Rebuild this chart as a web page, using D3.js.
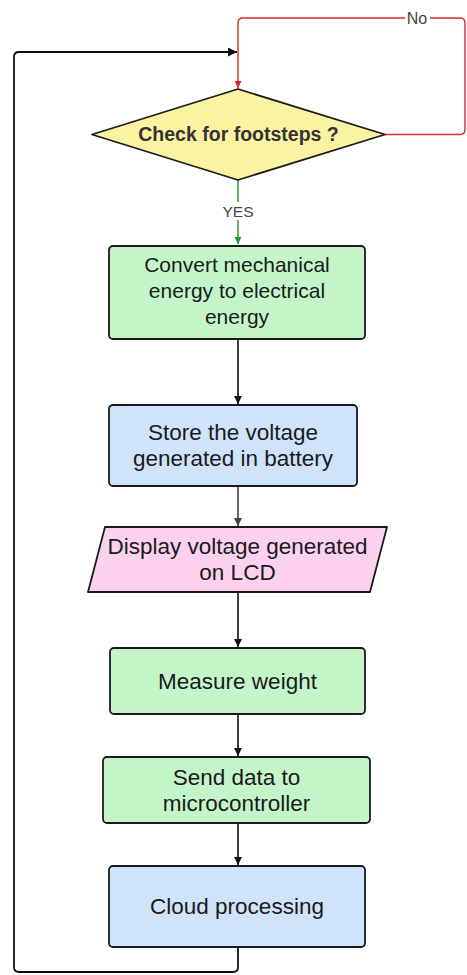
<!DOCTYPE html>
<html>
<head>
<meta charset="utf-8">
<script src="https://cdn.jsdelivr.net/npm/d3@7"></script>
<style>
  html, body { margin: 0; padding: 0; background: #fff; }
  svg { display: block; }
  text { font-family: "Liberation Sans", Arial, sans-serif; }
</style>
</head>
<body>
<div id="chart"></div>
<script>
// flow steps, top to bottom
const stepLabels = [
  ["Check for footsteps ?"],
  ["Convert mechanical", "energy to electrical", "energy"],
  ["Store the voltage", "generated in battery"],
  ["Display voltage generated", "on LCD"],
  ["Measure weight"],
  ["Send data to", "microcontroller"],
  ["Cloud processing"]
];
const stepKinds = ["decision", "process", "store", "io", "process", "process", "store"];
const branchLabels = ["YES", "No"];

// layout (pixels)
const W = 467, H = 975;
const boxes = [
  {x0: 92, x1: 385, y0: 89, y1: 180},
  {x0: 109, x1: 365, y0: 246, y1: 339},
  {x0: 109, x1: 357, y0: 405, y1: 486},
  {x0: 88, x1: 387, y0: 527, y1: 592},
  {x0: 110, x1: 365, y0: 648, y1: 714},
  {x0: 103, x1: 370, y0: 757, y1: 823},
  {x0: 109, x1: 365, y0: 866, y1: 947}
];
const fills = {decision: "#fbf2a2", process: "#c4f5c9", store: "#cfe3fb", io: "#fbd1ef"};
const cx = 238;

const svg = d3.select("#chart").append("svg")
  .attr("width", W).attr("height", H);

const defs = svg.append("defs");
function marker(id, color) {
  defs.append("marker")
    .attr("id", id)
    .attr("viewBox", "0 0 10 10")
    .attr("refX", 10).attr("refY", 5)
    .attr("markerWidth", 5).attr("markerHeight", 5)
    .attr("markerUnits", "strokeWidth")
    .attr("orient", "auto")
    .append("path").attr("d", "M0,0 L10,5 L0,10 z").attr("fill", color);
}
marker("ab", "#111");
marker("ag", "#444");
marker("ar", "#d42a2a");
marker("agr", "#1e9b2a");

const line = d3.line();

// connectors between consecutive steps
const links = svg.append("g");
for (let i = 1; i < boxes.length - 1; i++) {
  links.append("path")
    .attr("d", line([[cx, boxes[i].y1], [cx, boxes[i + 1].y0 - 1]]))
    .attr("stroke", i === 2 ? "#444" : "#111")
    .attr("stroke-width", 1.6)
    .attr("fill", "none")
    .attr("marker-end", i === 2 ? "url(#ag)" : "url(#ab)");
}

// YES branch
links.append("path")
  .attr("d", line([[cx, boxes[0].y1], [cx, boxes[1].y0 - 2]]))
  .attr("stroke", "#1e9b2a").attr("stroke-width", 1.4).attr("fill", "none")
  .attr("marker-end", "url(#agr)");
links.append("rect")
  .attr("x", cx - 19).attr("y", 202).attr("width", 38).attr("height", 18).attr("fill", "#fff");
links.append("text")
  .attr("x", cx).attr("y", 217).attr("text-anchor", "middle")
  .attr("font-size", 15.5).attr("fill", "#444").text(branchLabels[0]);

// No branch (loop back over the top right)
const rX = 465, rTop = 18, rr = 5;
const dMid = (boxes[0].y0 + boxes[0].y1) / 2;
links.append("path")
  .attr("d", `M${boxes[0].x1},${dMid} H${rX - rr} Q${rX},${dMid} ${rX},${dMid - rr} V${rTop + rr} Q${rX},${rTop} ${rX - rr},${rTop} H${cx + rr} Q${cx},${rTop} ${cx},${rTop + rr} V${boxes[0].y0 - 1}`)
  .attr("stroke", "#d42a2a").attr("stroke-width", 1.4).attr("fill", "none")
  .attr("marker-end", "url(#ar)");
links.append("rect")
  .attr("x", 405).attr("y", 9).attr("width", 25).attr("height", 18).attr("fill", "#fff");
links.append("text")
  .attr("x", 417).attr("y", 24).attr("text-anchor", "middle")
  .attr("font-size", 16).attr("fill", "#444").text(branchLabels[1]);

// return loop from the last step
const last = boxes[boxes.length - 1];
const lX = 14, lBot = 972, lTop = 52;
links.append("path")
  .attr("d", `M${cx},${last.y1} V${lBot - rr} Q${cx},${lBot} ${cx - rr},${lBot} H${lX + rr} Q${lX},${lBot} ${lX},${lBot - rr} V${lTop + rr} Q${lX},${lTop} ${lX + rr},${lTop} H${cx - 1}`)
  .attr("stroke", "#111").attr("stroke-width", 1.8).attr("fill", "none")
  .attr("marker-end", "url(#ab)");

// shapes
const nodes = svg.append("g").selectAll("g")
  .data(stepLabels.map((lab, i) => ({lab, kind: stepKinds[i], b: boxes[i]})))
  .join("g");

nodes.each(function(d, i) {
  const g = d3.select(this), b = d.b;
  const common = s => s.attr("fill", fills[d.kind]).attr("stroke", "#1a1a1a").attr("stroke-width", 1.8);
  if (d.kind === "decision") {
    const my = (b.y0 + b.y1) / 2;
    common(g.append("path").attr("d", line([[cx, b.y0], [b.x1, my], [cx, b.y1], [b.x0, my]]) + "Z")
      .attr("stroke-linejoin", "round"));
  } else if (d.kind === "io") {
    const sk = 17;
    common(g.append("path").attr("d", line([[b.x0 + sk, b.y0], [b.x1, b.y0], [b.x1 - sk, b.y1], [b.x0, b.y1]]) + "Z")
      .attr("stroke-linejoin", "round"));
  } else {
    common(g.append("rect").attr("x", b.x0).attr("y", b.y0)
      .attr("width", b.x1 - b.x0).attr("height", b.y1 - b.y0).attr("rx", 4));
  }
  const bold = d.kind === "decision";
  const fs = bold ? 19.5 : (i === 1 ? 21 : 22.5);
  const lh = bold ? 22 : 26;
  const n = d.lab.length;
  const my = (b.y0 + b.y1) / 2 - (i === 1 ? 2 : 0);
  g.selectAll("text").data(d.lab).join("text")
    .attr("x", (b.x0 + b.x1) / 2)
    .attr("y", (t, j) => my + (j - (n - 1) / 2) * lh)
    .attr("dy", "0.35em")
    .attr("text-anchor", "middle")
    .attr("font-size", fs)
    .attr("font-weight", bold ? "bold" : "normal")
    .attr("fill", bold ? "#333" : "#1a1a1a")
    .text(t => t);
});
</script>
</body>
</html>
